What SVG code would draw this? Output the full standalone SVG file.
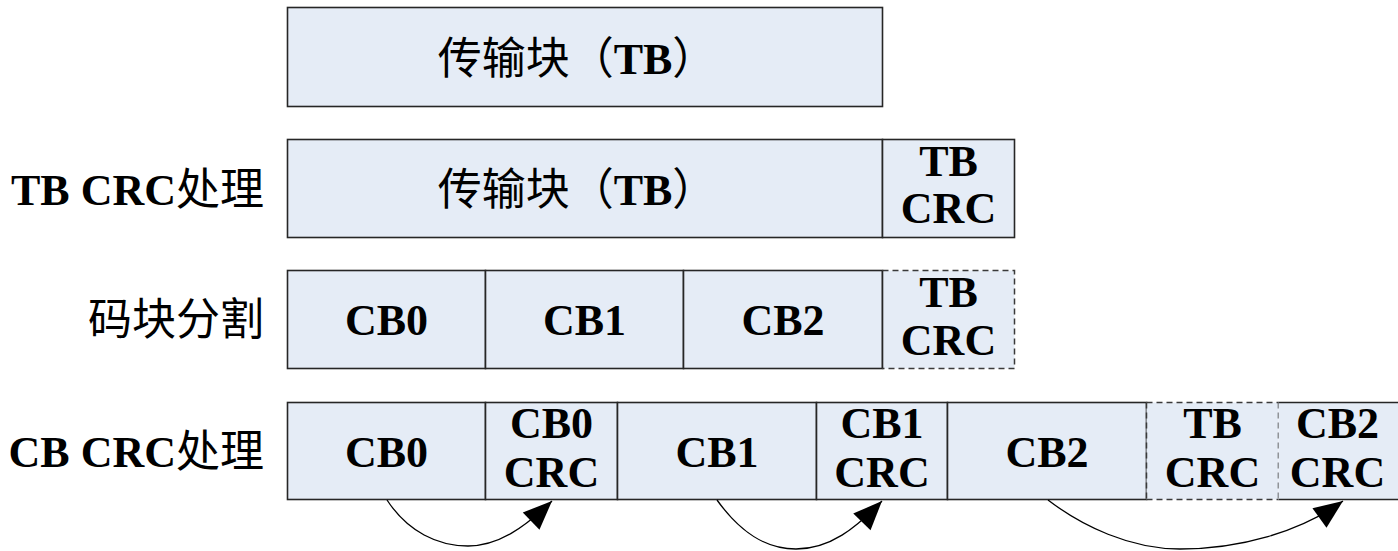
<svg xmlns="http://www.w3.org/2000/svg" width="1398" height="551" viewBox="0 0 1398 551">
<style>
  .cell{fill:#e5ecf6;stroke:#262626;stroke-width:1.6}
  .dash{fill:none;stroke:#3a3a3a;stroke-width:1.5;stroke-dasharray:6,4}
  .ln{fill:none;stroke:#262626;stroke-width:1.6}
  text{font-family:"Liberation Serif","Noto Sans CJK SC",serif;font-size:44px;fill:#000}
  .b{font-weight:bold}
  .c{text-anchor:middle}
  .e{text-anchor:end}
  .con{fill:none;stroke:#000;stroke-width:1.3}
</style>
<defs>
  <marker id="ah" markerUnits="userSpaceOnUse" viewBox="-30 -13 32 26" markerWidth="32" markerHeight="26" refX="0" refY="0" orient="auto">
    <path d="M0,0 L-29,-12 L-29,12 Z" fill="#000"/>
  </marker>
</defs>

<!-- Row labels -->
<g id="label-tbcrc"><text class="e" x="264" y="205"><tspan class="b">TB CRC</tspan>处理</text></g>
<g id="label-seg"><text class="e" x="264" y="335">码块分割</text></g>
<g id="label-cbcrc"><text class="e" x="264" y="467"><tspan class="b">CB CRC</tspan>处理</text></g>

<!-- Row 1 -->
<g id="row1-tb">
  <rect class="cell" x="287.5" y="7.5" width="595" height="99"/>
  <text class="c" x="577" y="74">传输块（<tspan class="b">TB</tspan>）</text>
</g>

<!-- Row 2 -->
<g id="row2-tb">
  <rect class="cell" x="287.5" y="139.5" width="595" height="98"/>
  <text class="c" x="577" y="205">传输块（<tspan class="b">TB</tspan>）</text>
</g>
<g id="row2-tbcrc">
  <rect class="cell" x="882.5" y="139.5" width="132" height="98"/>
  <text class="c b" x="948.5" y="176">TB</text>
  <text class="c b" x="948.5" y="223">CRC</text>
</g>

<!-- Row 3 -->
<g id="row3-cb0">
  <rect class="cell" x="287.5" y="270.5" width="198" height="98"/>
  <text class="c b" x="386.5" y="335">CB0</text>
</g>
<g id="row3-cb1">
  <rect class="cell" x="485.5" y="270.5" width="198" height="98"/>
  <text class="c b" x="584.5" y="335">CB1</text>
</g>
<g id="row3-cb2">
  <rect class="cell" x="683.5" y="270.5" width="199" height="98"/>
  <text class="c b" x="783" y="335">CB2</text>
</g>
<g id="row3-tbcrc">
  <rect x="882.5" y="270.5" width="132" height="98" fill="#e5ecf6"/>
  <path class="dash" d="M882.5,270.5 H1014.5 V368.5 H882.5"/>
  <line class="ln" x1="882.5" y1="270.5" x2="882.5" y2="368.5"/>
  <text class="c b" x="948.5" y="307">TB</text>
  <text class="c b" x="948.5" y="355">CRC</text>
</g>

<!-- Row 4 -->
<g id="row4-cb0">
  <rect class="cell" x="287.5" y="402.5" width="198" height="97"/>
  <text class="c b" x="386.5" y="467">CB0</text>
</g>
<g id="row4-cb0crc">
  <rect class="cell" x="485.5" y="402.5" width="132" height="97"/>
  <text class="c b" x="551.5" y="438">CB0</text>
  <text class="c b" x="551.5" y="487">CRC</text>
</g>
<g id="row4-cb1">
  <rect class="cell" x="617.5" y="402.5" width="199" height="97"/>
  <text class="c b" x="717" y="467">CB1</text>
</g>
<g id="row4-cb1crc">
  <rect class="cell" x="816.5" y="402.5" width="131" height="97"/>
  <text class="c b" x="882" y="438">CB1</text>
  <text class="c b" x="882" y="487">CRC</text>
</g>
<g id="row4-cb2">
  <rect class="cell" x="947.5" y="402.5" width="199" height="97"/>
  <text class="c b" x="1047" y="467">CB2</text>
</g>
<g id="row4-tbcrc">
  <rect x="1146.5" y="402.5" width="132" height="97" fill="#e5ecf6"/>
  <path class="dash" d="M1146.5,402.5 H1278.5 M1146.5,499.5 H1278.5"/>
  <line class="dash" x1="1146.5" y1="402.5" x2="1146.5" y2="499.5"/>
  <line class="dash" x1="1278.5" y1="402.5" x2="1278.5" y2="499.5"/>
  <text class="c b" x="1212.5" y="438">TB</text>
  <text class="c b" x="1212.5" y="487">CRC</text>
</g>
<g id="row4-cb2crc">
  <rect x="1278.5" y="402.5" width="125" height="97" fill="#e5ecf6"/>
  <path class="ln" d="M1278.5,402.5 H1400 M1278.5,499.5 H1400"/>
  <text class="c b" x="1337.5" y="438">CB2</text>
  <text class="c b" x="1337.5" y="487">CRC</text>
</g>

<!-- Connectors -->
<g id="connectors">
  <path class="con" marker-end="url(#ah)" d="M387,500 C408,532 438,546 468,546 C498,546 524,528 552,501"/>
  <path class="con" marker-end="url(#ah)" d="M717,500 C740,532 765,549 796,549 C830,549 856,528 882,501"/>
  <path class="con" marker-end="url(#ah)" d="M1048,500 C1082,526 1130,549 1180,549 C1240,549 1300,532 1343,501"/>
</g>
</svg>
